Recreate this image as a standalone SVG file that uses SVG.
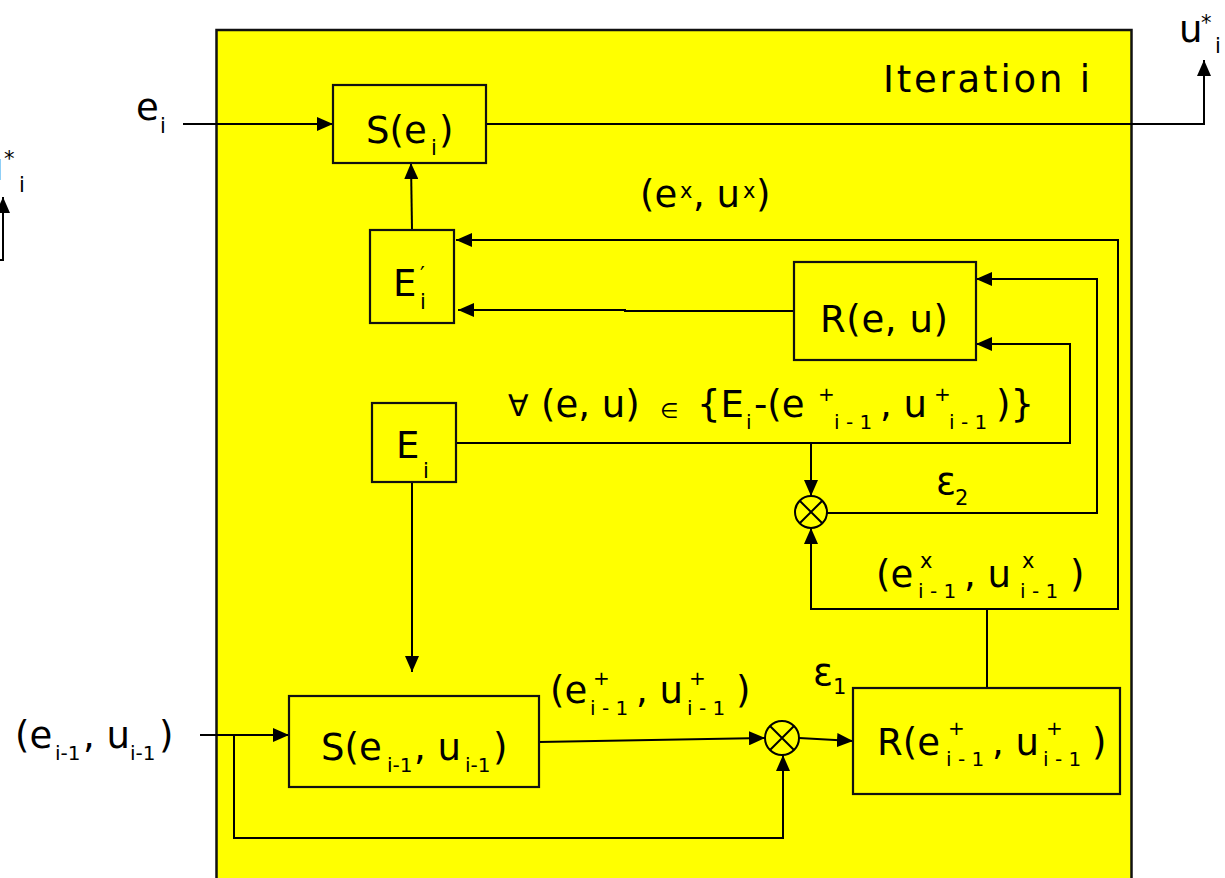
<svg xmlns="http://www.w3.org/2000/svg" width="1225" height="878" viewBox="0 0 1225 878">
  <style>
    text { font-family: "DejaVu Sans", "Liberation Sans", sans-serif; fill: #000; }
    .big { font-size: 37px; }
    .mid { font-size: 30px; }
    .sub { font-size: 20px; }
    .sup { font-size: 21px; }
    .box { fill: #ffff00; stroke: #111; stroke-width: 2.2; }
    .wire { fill: none; stroke: #000; stroke-width: 2; }
    .sum { fill: #ffff00; stroke: #000; stroke-width: 2; }
  </style>
  <defs>
    <marker id="arrow" viewBox="0 0 16 14" refX="16" refY="7" markerWidth="16" markerHeight="14" markerUnits="userSpaceOnUse" orient="auto">
      <path d="M0,0 L16,7 L0,14 z" fill="#000"/>
    </marker>
  </defs>

  <rect width="1225" height="878" fill="#fff"/>

  <!-- iteration frame -->
  <g id="frame">
    <rect x="216.5" y="30" width="915" height="870" fill="#ffff00" stroke="#111" stroke-width="2.5"/>
    <text class="big" x="883" y="92" textLength="207" lengthAdjust="spacing">Iteration i</text>
  </g>

  <!-- connectors -->
  <g id="connectors">
    <path class="wire" d="M183,124 H333" marker-end="url(#arrow)"/>
    <path class="wire" d="M486,124 H1204 V60" marker-end="url(#arrow)"/>
    <path class="wire" d="M412,230 L411,163" marker-end="url(#arrow)"/>
    <path class="wire" d="M987,688 V609 H1118 V240 H456" marker-end="url(#arrow)"/>
    <path class="wire" d="M987,609 H811 V528" marker-end="url(#arrow)"/>
    <path class="wire" d="M794,311 H625 V310 H458" marker-end="url(#arrow)"/>
    <path class="wire" d="M455,443 H1070 V344 H976" marker-end="url(#arrow)"/>
    <path class="wire" d="M811,443 V496" marker-end="url(#arrow)"/>
    <path class="wire" d="M827,513 H1097 V279 H976" marker-end="url(#arrow)"/>
    <path class="wire" d="M412,482 V672" marker-end="url(#arrow)"/>
    <path class="wire" d="M200,735 H289" marker-end="url(#arrow)"/>
    <path class="wire" d="M234,735 V838 H783 V755" marker-end="url(#arrow)"/>
    <path class="wire" d="M539,742 L765,738" marker-end="url(#arrow)"/>
    <path class="wire" d="M799,738 L853,741" marker-end="url(#arrow)"/>
    <path class="wire" d="M0,260 H3 V197" marker-end="url(#arrow)"/>
  </g>

  <!-- outside labels -->
  <g id="input-e">
    <text><tspan class="big" x="136" y="120">e</tspan><tspan class="sup" x="160" y="133">i</tspan></text>
  </g>
  <g id="output-u">
    <text><tspan class="big" x="1179" y="42">u</tspan><tspan class="sup" x="1201" y="30">*</tspan><tspan class="sup" x="1215" y="53">i</tspan></text>
  </g>
  <g id="output-u-prev">
    <text><tspan class="big" x="-20" y="180">u</tspan><tspan class="sup" x="4" y="166">*</tspan><tspan class="sup" x="19" y="192">i</tspan></text>
  </g>
  <g id="input-pair">
    <text><tspan class="big" x="15" y="748">(e</tspan><tspan class="sub" x="55" y="760">i-1</tspan><tspan class="big" x="83" y="748">, u</tspan><tspan class="sub" x="130" y="760">i-1</tspan><tspan class="big" x="159" y="748">)</tspan></text>
  </g>

  <!-- S(e_i) -->
  <g id="select-ei">
    <rect class="box" x="333" y="85" width="153" height="78"/>
    <text><tspan class="big" x="366" y="143">S(e</tspan><tspan class="sup" x="431" y="155">i</tspan><tspan class="big" x="439" y="143">)</tspan></text>
  </g>

  <!-- E'_i -->
  <g id="set-ei-prime">
    <rect class="box" x="370" y="230" width="84" height="93"/>
    <text><tspan class="big" x="393" y="296">E</tspan><tspan class="sup" x="420" y="282">′</tspan><tspan class="sup" x="420" y="309">i</tspan></text>
  </g>

  <!-- label (e^x, u^x) -->
  <g id="label-ex-ux">
    <text><tspan class="big" x="640" y="207">(e</tspan><tspan class="sup" x="680" y="198">x</tspan><tspan class="big" x="693" y="207">, u</tspan><tspan class="sup" x="743" y="198">x</tspan><tspan class="big" x="756" y="207">)</tspan></text>
  </g>

  <!-- R(e, u) -->
  <g id="refine-eu">
    <rect class="box" x="794" y="262" width="182" height="98"/>
    <text class="big" x="820" y="332" textLength="128" lengthAdjust="spacing">R(e, u)</text>
  </g>

  <!-- E_i -->
  <g id="set-ei">
    <rect class="box" x="372" y="403" width="84" height="79"/>
    <text><tspan class="big" x="396" y="458">E</tspan><tspan class="sup" x="423" y="478">i</tspan></text>
  </g>

  <!-- set condition label -->
  <g id="label-forall">
    <text><tspan class="mid" x="508" y="416">∀</tspan><tspan class="big" x="541" y="417">(e, u)</tspan><tspan class="sup" x="660" y="418">∈</tspan><tspan class="big" x="697" y="417">{E</tspan><tspan class="sub" x="746" y="429">i</tspan><tspan class="big" x="754" y="417">-(e</tspan><tspan class="sub" x="818" y="401">+</tspan><tspan class="sub" x="834" y="429">i - 1</tspan><tspan class="big" x="880" y="417">, u</tspan><tspan class="sub" x="934" y="401">+</tspan><tspan class="sub" x="949" y="429">i - 1</tspan><tspan class="big" x="996" y="417">)}</tspan></text>
  </g>

  <!-- combiner 2 -->
  <g id="combine-2">
    <circle class="sum" cx="811" cy="512" r="16"/>
    <path class="wire" d="M799.7,500.7 L822.3,523.3 M822.3,500.7 L799.7,523.3"/>
    <text><tspan class="big" x="936" y="494">ε</tspan><tspan class="sup" x="955" y="505">2</tspan></text>
  </g>

  <!-- label (e^x_{i-1}, u^x_{i-1}) -->
  <g id="label-ex-prev">
    <text><tspan class="big" x="876" y="587">(e</tspan><tspan class="sup" x="920" y="568">x</tspan><tspan class="sub" x="918" y="598">i - 1</tspan><tspan class="big" x="964" y="587">, u</tspan><tspan class="sup" x="1022" y="568">x</tspan><tspan class="sub" x="1020" y="598">i - 1</tspan><tspan class="big" x="1070" y="587">)</tspan></text>
  </g>

  <!-- S(e_{i-1}, u_{i-1}) -->
  <g id="select-prev">
    <rect class="box" x="289" y="696" width="250" height="91"/>
    <text><tspan class="big" x="321" y="760">S(e</tspan><tspan class="sub" x="387" y="772">i-1</tspan><tspan class="big" x="414" y="760">, u</tspan><tspan class="sub" x="465" y="772">i-1</tspan><tspan class="big" x="493" y="760">)</tspan></text>
  </g>

  <!-- label (e+_{i-1}, u+_{i-1}) -->
  <g id="label-eplus-prev">
    <text><tspan class="big" x="550" y="703">(e</tspan><tspan class="sub" x="593" y="685">+</tspan><tspan class="sub" x="590" y="715">i - 1</tspan><tspan class="big" x="636" y="703">, u</tspan><tspan class="sub" x="689" y="685">+</tspan><tspan class="sub" x="687" y="715">i - 1</tspan><tspan class="big" x="736" y="703">)</tspan></text>
  </g>

  <!-- combiner 1 -->
  <g id="combine-1">
    <circle class="sum" cx="782" cy="738" r="17"/>
    <path class="wire" d="M770,726 L794,750 M794,726 L770,750"/>
    <text><tspan class="big" x="813" y="685">ε</tspan><tspan class="sup" x="833" y="694">1</tspan></text>
  </g>

  <!-- R(e+_{i-1}, u+_{i-1}) -->
  <g id="refine-prev">
    <rect class="box" x="853" y="688" width="267" height="106"/>
    <text><tspan class="big" x="877" y="755">R(e</tspan><tspan class="sub" x="948" y="735">+</tspan><tspan class="sub" x="946" y="766">i - 1</tspan><tspan class="big" x="992" y="755">, u</tspan><tspan class="sub" x="1046" y="735">+</tspan><tspan class="sub" x="1043" y="766">i - 1</tspan><tspan class="big" x="1092" y="755">)</tspan></text>
  </g>
</svg>
